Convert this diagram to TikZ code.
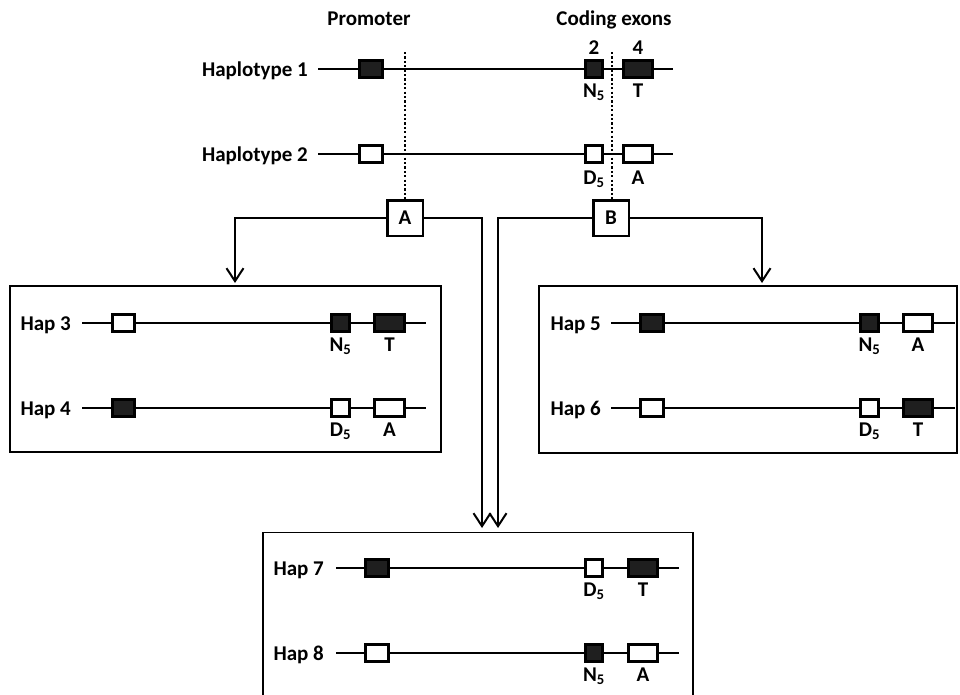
\documentclass[tikz,border=0pt]{standalone}
\usepackage{fontspec}
\setmainfont{Carlito}
\usetikzlibrary{arrows.meta}
\tikzset{
  lab/.style={font=\fontsize{21}{25}\selectfont\bfseries, inner sep=0pt},
  hline/.style={line width=2.1pt},
  exbox/.style={draw, line width=2.7pt, inner sep=0pt, minimum height=17.3pt},
  fb/.style={exbox, fill=black!88},
  ob/.style={exbox, fill=white},
  frame/.style={draw, line width=1.4pt},
  selbox/.style={draw, fill=white, line width=2.5pt, inner sep=0pt, minimum size=35.5pt, font=\fontsize{21}{25}\selectfont\bfseries},
  dotline/.style={line width=2.3pt, dash pattern=on 2.2pt off 2.2pt},
  arr/.style={line width=2pt, -{Straight Barb[length=13pt,width=17pt,line width=2pt]}},
  conn/.style={line width=2pt}
}
% row: #1 name, #2 label text, #3 label right x, #4 y, #5 line start, #6 line end
\newcommand{\rowline}[6]{%
  \node[lab, anchor=base east] (#1lab) at (#3,#4+7) {#2};
  \coordinate (#1s) at (#5,#4);
  \coordinate (#1e) at (#6,#4);
  \draw[hline] (#1s) -- (#1e);
}
% box: #1 name, #2 style, #3 left x, #4 right x, #5 y
\newcommand{\exon}[5]{%
  \node[#2, minimum width={#4-#3-2.7}] (#1) at ({(#3+#4)/2},#5) {};
}
% label below: #1 name, #2 x, #3 line y, #4 text
\newcommand{\allele}[4]{%
  \node[lab, anchor=base] (#1) at (#2,#3+35) {#4};
}
\begin{document}
\begin{tikzpicture}[x=1pt,y=-1pt]
\useasboundingbox (0,0) rectangle (960,694);
\clip (0,0) rectangle (960,694);

% headers
\node[lab, anchor=base] (prom) at (369,25) {Promoter};
\node[lab, anchor=base] (cod) at (614,25) {Coding exons};
\node[lab, anchor=base] (n2) at (594,54) {2};
\node[lab, anchor=base] (n4) at (638,54) {4};

% dotted lines and selection boxes
\node[selbox] (A) at (405,218) {A};
\node[selbox] (B) at (611,218) {B};
\coordinate (dA) at (405,52);
\coordinate (dB) at (612,52);
\draw[dotline] (dA) -- (A.north);
\draw[dotline] (dB) -- (B.north -| dB);

% Haplotype 1
\rowline{h1}{Haplotype 1}{308}{69}{318}{673}
\exon{h1p}{fb}{358}{384}{69}
\exon{h1x}{fb}{584}{604}{69}
\exon{h1y}{fb}{622}{654}{69}
\allele{h1a}{594}{62}{N\textsubscript{5}}
\allele{h1b}{638}{62}{T}

% Haplotype 2
\rowline{h2}{Haplotype 2}{308}{154}{318}{673}
\exon{h2p}{ob}{358}{384}{154}
\exon{h2x}{ob}{584}{604}{154}
\exon{h2y}{ob}{622}{654}{154}
\allele{h2a}{594}{149}{D\textsubscript{5}}
\allele{h2b}{638}{149}{A}

% frames
\node[frame, minimum width=431pt, minimum height=166pt, inner sep=0pt] (F1) at (225.5,369) {};
\node[frame, minimum width=418pt, minimum height=167pt, inner sep=0pt] (F2) at (748,369.5) {};
\node[frame, minimum width=430pt, minimum height=180pt, inner sep=0pt, anchor=north] (F3) at (478,532) {};

% Hap 3 / Hap 4
\rowline{h3}{Hap 3}{71}{323}{82}{426}
\exon{h3p}{ob}{111}{136}{323}
\exon{h3x}{fb}{330}{351}{323}
\exon{h3y}{fb}{373}{406}{323}
\allele{h3a}{340.5}{316}{N\textsubscript{5}}
\allele{h3b}{389.5}{316}{T}

\rowline{h4}{Hap 4}{71}{408}{82}{426}
\exon{h4p}{fb}{111}{136}{408}
\exon{h4x}{ob}{330}{351}{408}
\exon{h4y}{ob}{373}{406}{408}
\allele{h4a}{340.5}{401}{D\textsubscript{5}}
\allele{h4b}{389.5}{401}{A}

% Hap 5 / Hap 6
\rowline{h5}{Hap 5}{601}{323}{611}{955}
\exon{h5p}{fb}{639}{665}{323}
\exon{h5x}{fb}{859}{880}{323}
\exon{h5y}{ob}{902}{934}{323}
\allele{h5a}{869.5}{316}{N\textsubscript{5}}
\allele{h5b}{918}{316}{A}

\rowline{h6}{Hap 6}{601}{408}{611}{955}
\exon{h6p}{ob}{639}{665}{408}
\exon{h6x}{ob}{859}{880}{408}
\exon{h6y}{fb}{902}{934}{408}
\allele{h6a}{869.5}{401}{D\textsubscript{5}}
\allele{h6b}{918}{401}{T}

% Hap 7 / Hap 8
\rowline{h7}{Hap 7}{324}{568}{336}{679}
\exon{h7p}{fb}{364}{390}{568}
\exon{h7x}{ob}{584}{604}{568}
\exon{h7y}{fb}{627}{659}{568}
\allele{h7a}{594}{561}{D\textsubscript{5}}
\allele{h7b}{643}{561}{T}

\rowline{h8}{Hap 8}{324}{653}{336}{679}
\exon{h8p}{ob}{364}{390}{653}
\exon{h8x}{fb}{584}{604}{653}
\exon{h8y}{ob}{627}{659}{653}
\allele{h8a}{594}{646}{N\textsubscript{5}}
\allele{h8b}{643}{646}{A}

% connectors
\coordinate (t1) at (235,283);
\coordinate (t2) at (762,283);
\coordinate (t3) at (482,528);
\coordinate (t4) at (498,528);
\draw[arr] (A.west) -| (t1);
\draw[arr] (A.east) -| (t3);
\draw[arr] (B.west) -| (t4);
\draw[arr] (B.east) -| (t2);
\end{tikzpicture}
\end{document}
